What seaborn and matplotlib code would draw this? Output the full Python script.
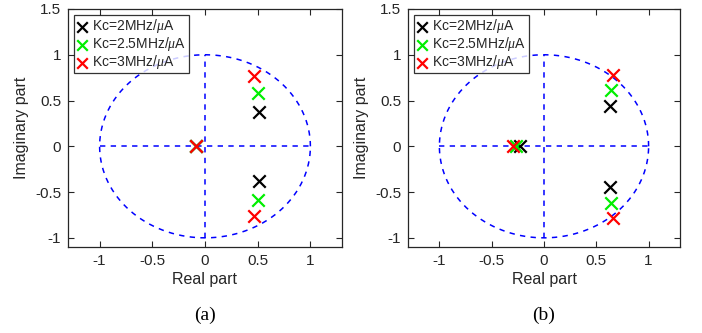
import numpy as np
import pandas as pd
import matplotlib
matplotlib.use("Agg")
import matplotlib.pyplot as plt
import seaborn as sns

sns.set_style("white")
plt.rcParams['font.family'] = ['Liberation Sans', 'DejaVu Sans']
plt.rcParams['mathtext.fontset'] = 'custom'
plt.rcParams['mathtext.it'] = 'Liberation Serif:italic'

series_labels = ["Kc=2MHz/$\\mu$A", "Kc=2.5MHz/$\\mu$A", "Kc=3MHz/$\\mu$A"]
series_colors = ["#000000", "#00ee00", "#ff0000"]

# Panel (a) poles
a_re = [[0.515, 0.515, -0.09], [0.50, 0.50, -0.09], [0.468, 0.468, -0.09]]
a_im = [[0.375, -0.38, 0.0], [0.585, -0.59, 0.0], [0.765, -0.76, 0.0]]
# Panel (b) poles
b_re = [[0.627, 0.627, -0.227], [0.64, 0.64, -0.265], [0.655, 0.655, -0.297]]
b_im = [[0.44, -0.44, 0.0], [0.62, -0.62, 0.0], [0.775, -0.78, 0.0]]

xticks = [-1, -0.5, 0, 0.5, 1]
yticks = [-1, -0.5, 0, 0.5, 1, 1.5]
captions = ["(a)", "(b)"]

fig = plt.figure(figsize=(7.02, 3.33), dpi=100)
ax1 = fig.add_axes([68/702, 1-247/333, (342-68)/702, (247-9)/333])
ax2 = fig.add_axes([408/702, 1-247/333, (680-408)/702, (247-9)/333])

theta = np.linspace(0, 2*np.pi, 400)
blue = "#0000ff"
dark = "#262626"

for ax, res, ims, cap in [(ax1, a_re, a_im, captions[0]), (ax2, b_re, b_im, captions[1])]:
    ax.plot(np.cos(theta), np.sin(theta), ls=(0, (3.5, 3.5)), color=blue, lw=1.1)
    ax.plot([-1, 1], [0, 0], ls=(0, (3.5, 3.5)), color=blue, lw=1.1)
    ax.plot([0, 0], [-1, 1], ls=(0, (3.5, 3.5)), color=blue, lw=1.1)
    for re, im, lab, col in zip(res, ims, series_labels, series_colors):
        df = pd.DataFrame({"re": re, "im": im})
        sns.scatterplot(data=df, x="re", y="im", ax=ax, marker="x", color=col,
                        s=80, linewidth=1.6, label=lab, zorder=3)
    ax.set_xlim(-1.3, 1.3)
    ax.set_ylim(-1.1, 1.5)
    ax.set_xticks(xticks)
    ax.set_xticklabels(["-1", "-0.5", "0", "0.5", "1"])
    ax.set_yticks(yticks)
    ax.set_yticklabels(["-1", "-0.5", "0", "0.5", "1", "1.5"])
    ax.tick_params(direction="in", length=4, width=0.8, colors=dark, labelsize=11,
                   top=True, right=True, bottom=True, left=True, pad=5)
    for sp in ax.spines.values():
        sp.set_color(dark)
        sp.set_linewidth(0.9)
    ax.set_xlabel("Real part", fontsize=11.5, color=dark, labelpad=3)
    ax.set_ylabel("Imaginary part", fontsize=11.5, color=dark, labelpad=4)
    leg = ax.legend(loc="upper left", fontsize=10, frameon=True, fancybox=False,
                    borderpad=0.15, handletextpad=0.35, handlelength=0.8,
                    labelspacing=0.0, borderaxespad=0.45, markerscale=0.85)
    leg.get_frame().set_edgecolor("#000000")
    leg.get_frame().set_linewidth(0.9)
    ax.text(0.5, -0.286, cap, transform=ax.transAxes, ha="center", va="center",
            fontsize=14, family="Liberation Serif", color="#000000")

fig.savefig("out.png", dpi=100)
